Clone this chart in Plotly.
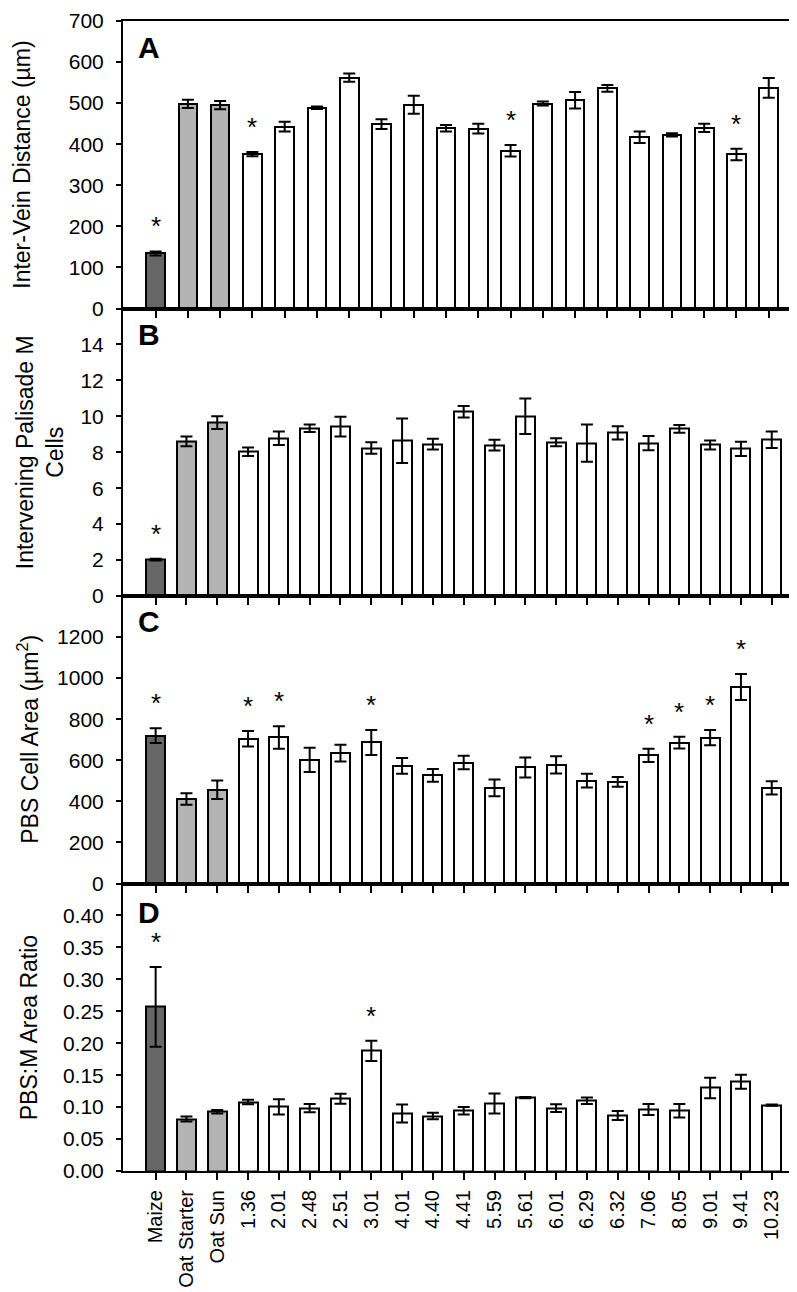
import plotly.graph_objects as go
from plotly.subplots import make_subplots

# ---------------- data ----------------
lines = ["Maize", "Oat Starter", "Oat Sun", "1.36", "2.01", "2.48", "2.51", "3.01",
         "4.01", "4.40", "4.41", "5.59", "5.61", "6.01", "6.29", "6.32", "7.06",
         "8.05", "9.01", "9.41", "10.23"]

# Panel A (20 bars drawn)
inter_vein_pos = list(range(20))
inter_vein = [134, 498, 495, 376, 443, 489, 562, 449, 496, 439, 438, 384, 499, 507,
              536, 417, 423, 440, 375, 537]
inter_vein_err = [5, 10, 10, 5, 12, 3, 10, 12, 22, 8, 12, 14, 5, 20, 8, 14, 4, 10, 14, 24]
inter_vein_sig = [0, 3, 11, 18]

# Panel B
palisade = [2.03, 8.6, 9.65, 8.03, 8.78, 9.34, 9.43, 8.23, 8.64, 8.45, 10.25, 8.40,
            10.0, 8.56, 8.51, 9.08, 8.51, 9.30, 8.41, 8.19, 8.69]
palisade_err = [0.05, 0.27, 0.35, 0.24, 0.37, 0.21, 0.55, 0.32, 1.24, 0.3, 0.32, 0.3,
                0.99, 0.22, 1.04, 0.37, 0.4, 0.22, 0.25, 0.4, 0.46]
palisade_sig = ["Maize"]

# Panel C
pbs_area = [720, 412, 456, 705, 711, 602, 635, 687, 573, 526, 589, 466, 565, 578,
            501, 495, 624, 686, 710, 957, 466]
pbs_area_err = [36, 28, 45, 38, 55, 59, 41, 61, 38, 31, 33, 41, 49, 42, 33, 24, 32,
                29, 37, 63, 32]
pbs_area_sig = ["Maize", "1.36", "2.01", "3.01", "7.06", "8.05", "9.01", "9.41"]

# Panel D
ratio = [0.257, 0.0813, 0.0927, 0.108, 0.1005, 0.0984, 0.113, 0.188, 0.090, 0.086,
         0.0943, 0.1057, 0.115, 0.0984, 0.110, 0.087, 0.0964, 0.0943, 0.130, 0.1396, 0.103]
ratio_err = [0.0625, 0.004, 0.0026, 0.0034, 0.012, 0.0065, 0.0078, 0.016, 0.014, 0.005,
             0.006, 0.0156, 0.001, 0.006, 0.0052, 0.007, 0.0086, 0.0107, 0.016, 0.011, 0.001]
ratio_sig = ["Maize", "3.01"]

yticks_a = [0, 100, 200, 300, 400, 500, 600, 700]
yticks_b = [0, 2, 4, 6, 8, 10, 12, 14]
yticks_c = [0, 200, 400, 600, 800, 1000, 1200]
yticks_d = [0, 0.05, 0.1, 0.15, 0.2, 0.25, 0.3, 0.35, 0.4]

MAIZE_C = "#666666"
OAT_C = "#b3b3b3"
colors21 = [MAIZE_C, OAT_C, OAT_C] + ["#ffffff"] * 18
colors20 = [MAIZE_C, OAT_C, OAT_C] + ["#ffffff"] * 17

FONT = "Arial, Liberation Sans, sans-serif"

fig = make_subplots(rows=4, cols=1, vertical_spacing=0, shared_xaxes=False)

err_style = dict(type="data", color="black", thickness=2, width=6)
bar_line = dict(color="black", width=2)

fig.add_trace(go.Bar(x=inter_vein_pos, y=inter_vein,
                     error_y=dict(array=inter_vein_err, **err_style),
                     marker=dict(color=colors20, line=bar_line), width=0.58), row=1, col=1)
fig.add_trace(go.Bar(x=lines, y=palisade,
                     error_y=dict(array=palisade_err, **err_style),
                     marker=dict(color=colors21, line=bar_line), width=0.62), row=2, col=1)
fig.add_trace(go.Bar(x=lines, y=pbs_area,
                     error_y=dict(array=pbs_area_err, **err_style),
                     marker=dict(color=colors21, line=bar_line), width=0.62), row=3, col=1)
fig.add_trace(go.Bar(x=lines, y=ratio,
                     error_y=dict(array=ratio_err, **err_style),
                     marker=dict(color=colors21, line=bar_line), width=0.62), row=4, col=1)

axis_common = dict(showline=True, linecolor="black", linewidth=2, mirror=True,
                   ticks="outside", tickcolor="black", tickwidth=2,
                   showgrid=False, zeroline=False, ticklabeloverflow="allow",
                   automargin=False,
                   tickfont=dict(family=FONT, size=21, color="black"))

# x axes
fig.update_xaxes(axis_common, ticklen=7)
fig.update_xaxes(range=[-1.01, 20], tickvals=inter_vein_pos, showticklabels=False, row=1, col=1)
for r in (2, 3, 4):
    fig.update_xaxes(type="category", range=[-1.06, 20.95], row=r, col=1,
                     showticklabels=(r == 4))
fig.update_xaxes(tickangle=-90, ticklabelstandoff=2,
                 tickfont=dict(family=FONT, size=20, color="black"), row=4, col=1)

# y axes
fig.update_yaxes(axis_common, ticklen=5, ticklabelstandoff=8)
fig.update_yaxes(range=[0, 700], tickvals=yticks_a, row=1, col=1)
fig.update_yaxes(range=[0, 16], tickvals=yticks_b, row=2, col=1)
fig.update_yaxes(range=[0, 1400], tickvals=yticks_c, row=3, col=1)
fig.update_yaxes(range=[0, 0.45], tickvals=yticks_d, tickformat=".2f", row=4, col=1)

annotations = []
star_font = dict(family=FONT, size=26, color="black")


def add_stars(xref, yref, names, vals, errs, sig):
    # stars placed at numeric category index above each significant bar's error cap
    for i, (n, v, e) in enumerate(zip(names, vals, errs)):
        if n in sig:
            annotations.append(dict(x=i, y=v + e, xref=xref, yref=yref, text="*",
                                    showarrow=False, yanchor="middle", yshift=25,
                                    font=star_font))


add_stars("x", "y", inter_vein_pos, inter_vein, inter_vein_err, inter_vein_sig)
add_stars("x2", "y2", lines, palisade, palisade_err, palisade_sig)
add_stars("x3", "y3", lines, pbs_area, pbs_area_err, pbs_area_sig)
add_stars("x4", "y4", lines, ratio, ratio_err, ratio_sig)

# panel letters
for i, (letter, off) in enumerate([("A", 26), ("B", 26), ("C", 25), ("D", 29)], start=1):
    sfx = "" if i == 1 else str(i)
    annotations.append(dict(text="<b>%s</b>" % letter, x=0.019, y=1, xref="x%s domain" % sfx,
                            yref="y%s domain" % sfx, xanchor="left", yanchor="middle",
                            yshift=-off, showarrow=False,
                            font=dict(family=FONT, size=30, color="black")))

# y titles
titles = [("Inter-Vein Distance (µm)", 14), ("Intervening Palisade M<br>Cells", 32),
          ("PBS Cell Area (µm<sup>2</sup>)", 20), ("PBS:M Area Ratio", 21)]
L, W = 115, 678
for i, (t, px) in enumerate(titles, start=1):
    sfx = "" if i == 1 else str(i)
    annotations.append(dict(text=t, x=(px - L) / W, y=0.5, xref="paper",
                            yref="y%s domain" % sfx, xanchor="center", yanchor="middle",
                            textangle=-90, showarrow=False,
                            font=dict(family=FONT, size=23, color="black")))

fig.update_layout(
    width=797, height=1292,
    margin=dict(l=115, r=4, t=13, b=129),
    plot_bgcolor="white", paper_bgcolor="white",
    showlegend=False, bargap=0,
    annotations=annotations,
    font=dict(family=FONT, color="black"),
)

fig.write_html("out.html")
